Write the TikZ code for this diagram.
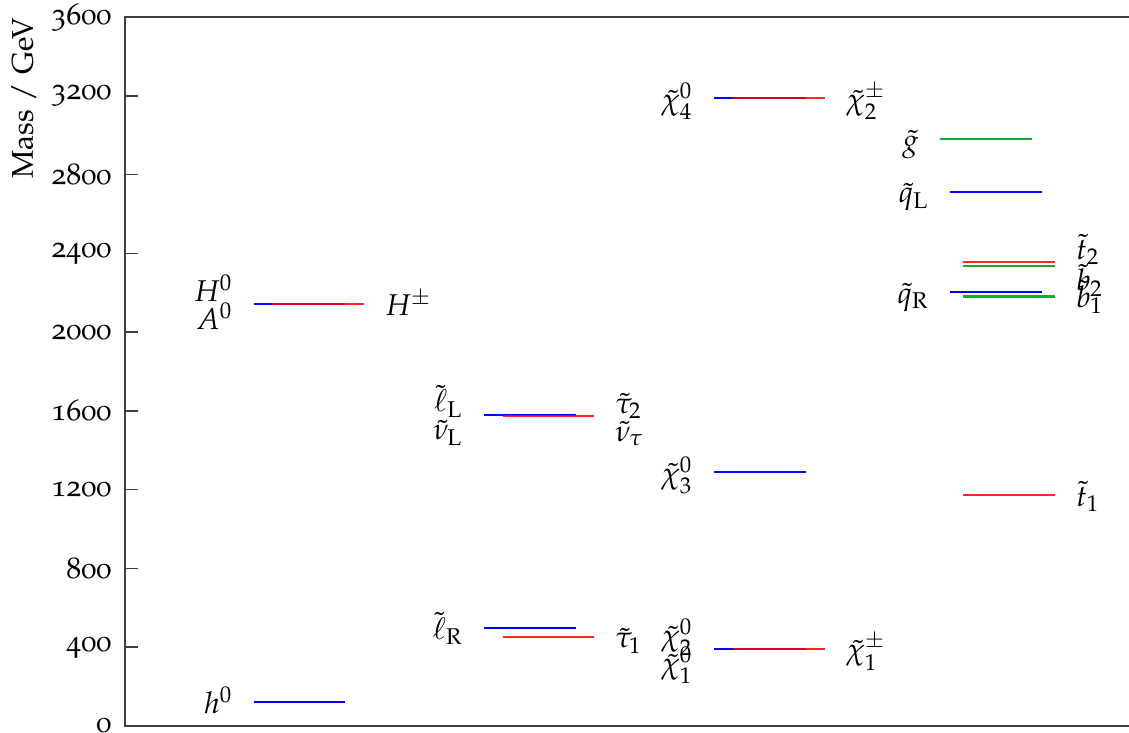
\documentclass[tikz,border=0pt]{standalone}
\usepackage[T1]{fontenc}
\usepackage[osf]{mathpazo}
\usepackage{tikz}
\usetikzlibrary{positioning}
\usepackage{xcolor}
\definecolor{sgreen}{RGB}{20,170,50}

\begin{document}
\begin{tikzpicture}[x=0.33333pt,y=0.065647pt,
  every node/.style={inner sep=0pt,},%
  fr/.style={draw=black!75,line width=0.5pt},%
  lv/.style={line width=0.7pt},%
  bl/.style={lv,draw=blue},%
  rd/.style={lv,draw=red,draw opacity=0.85},%
  gr/.style={lv,draw=sgreen},%
  le/.style={anchor=base east,xshift=-6.7pt},%
  ri/.style={anchor=base west,xshift=6.7pt},%
  one/.style={yshift=-3.7pt},%
  up/.style={yshift=1pt},%
  dn/.style={yshift=-8.3pt},%
  ]
  \useasboundingbox (0,-35.5) rectangle (1129,3686.4);
  \clip (0,-35.5) rectangle (1129,3686.4);
  % frame and axis
  \draw [fr] (125,0) rectangle (1200,3600);
  \foreach \m in {400,800,...,3200} \draw [fr] (125,\m) -- (138,\m);
  \foreach \m in {0,400,...,3600} \node (t\m) [anchor=east] at (112,\m) {\m};
  \node (yl) [rotate=90,anchor=base east] at (33,3600) {Mass / GeV};
  % higgs
  \draw [bl] (254,122) node (h) [le,one] {$h^0$} -- (345,122);
  \draw [bl] (254,2142) node (hh) [le,up] {$H^0$} node (ha) [le,dn] {$A^0$} -- (345,2142);
  \draw [rd] (272,2142) -- (364,2142) node (hc) [ri,one] {$H^\pm$};
  % sleptons
  \draw [bl] (484,1580) node (sl) [le,up] {$\tilde\ell_{\mathrm{L}}$}
    node (snl) [le,dn] {$\tilde\nu_{\mathrm{L}}$} -- (576,1580);
  \draw [rd] (503,1572) -- (594,1572) node (st2) [ri,up] {$\tilde\tau_2$}
    node (snt) [ri,dn] {$\tilde\nu_\tau$};
  \draw [bl] (484,497) node (sr) [le,one] {$\tilde\ell_{\mathrm{R}}$} -- (576,497);
  \draw [rd] (503,453) -- (594,453) node (st1) [ri,one] {$\tilde\tau_1$};
  % neutralinos, charginos
  \draw [bl] (714,3187) node (n4) [le,one] {$\tilde\chi^0_4$} -- (806,3187);
  \draw [rd] (733,3187) -- (825,3187) node (c2) [ri,one] {$\tilde\chi^\pm_2$};
  \draw [bl] (714,1289) node (n3) [le,one] {$\tilde\chi^0_3$} -- (806,1289);
  \draw [bl] (714,392) node (n2) [le,up] {$\tilde\chi^0_2$}
    node (n1) [le,dn] {$\tilde\chi^0_1$} -- (806,392);
  \draw [rd] (733,392) -- (825,392) node (c1) [ri,one] {$\tilde\chi^\pm_1$};
  % squarks, gluino
  \draw [gr] (940,2981) node (gl) [le,one] {$\tilde g$} -- (1032,2981);
  \draw [bl] (950,2712) node (ql) [le,one] {$\tilde q_{\mathrm{L}}$} -- (1042,2712);
  \draw [rd] (963,2356) -- (1055,2356) node (tt2) [ri,up] {$\tilde t_2$};
  \draw [gr] (963,2336) -- (1055,2336) node (bb2) [ri,dn] {$\tilde b_2$};
  \draw [bl] (950,2203) node (qr) [le,one] {$\tilde q_{\mathrm{R}}$} -- (1042,2203);
  \draw [gr] (963,2181) -- (1055,2181) node (bb1) [ri,one] {$\tilde b_1$};
  \draw [rd] (963,1172) -- (1055,1172) node (tt1) [ri,one] {$\tilde t_1$};
\end{tikzpicture}
\end{document}
